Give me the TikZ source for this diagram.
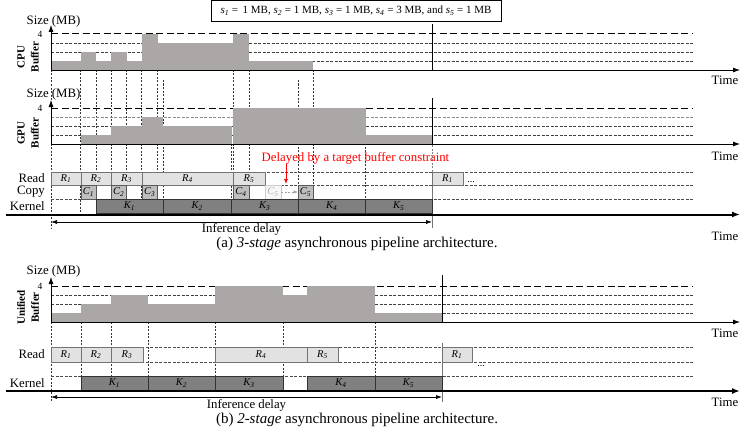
\documentclass[tikz,border=0pt]{standalone}
\usepackage{fontspec}
\setmainfont{Liberation Serif}
\usetikzlibrary{arrows.meta}
\definecolor{barfill}{RGB}{172,167,167}
\definecolor{readfill}{RGB}{226,226,226}
\definecolor{copyfill}{RGB}{190,190,190}
\definecolor{kernfill}{RGB}{128,128,128}
\definecolor{delayred}{RGB}{255,0,0}
\newcommand{\tbox}[7]{%
  \node[#2, anchor=north west, minimum width={(#4-#3)*1pt}, minimum height={(#6-#5)*1pt}] (#1) at (#3,#5) {#7};}
\tikzset{
  lvlfour/.style={line width=1pt, dash pattern=on 7pt off 3.5pt},
  lvl/.style={line width=0.5pt, dash pattern=on 3pt off 1.5pt, black!75},
  vdash/.style={line width=0.5pt, dash pattern=on 2pt off 1.5pt, black!80},
  rowline/.style={line width=0.6pt, dash pattern=on 3pt off 1.5pt, black!70},
  axis/.style={line width=0.8pt, -{Latex[length=7pt,width=5pt]}},
  thickaxis/.style={line width=2pt, -{Latex[length=8pt,width=6pt]}},
  boxbase/.style={inner sep=0pt, outer sep=0pt, line width=0.6pt, font=\fontsize{10.5}{12}\selectfont\itshape},
  readbox/.style={boxbase, draw=black!55, fill=readfill},
  copybox/.style={boxbase, draw=black!65, fill=copyfill},
  kernbox/.style={boxbase, draw=black!80, fill=kernfill},
  ghostbox/.style={boxbase, draw=black!20, fill=black!3, text=black!30},
  rowlbl/.style={anchor=east, inner sep=0pt},
  sizelbl/.style={inner sep=0pt},
  fourlbl/.style={inner sep=0pt, font=\fontsize{9.5}{10}\selectfont},
  timelbl/.style={inner sep=0pt},
  buflbl/.style={rotate=90, align=center, inner sep=0pt, font=\fontsize{11}{14}\selectfont\bfseries},
  caption/.style={inner sep=0pt, font=\fontsize{15}{17}\selectfont},
  delayarrow/.style={line width=0.6pt, {Latex[length=6pt,width=4pt]}-{Latex[length=6pt,width=4pt]}},
}
\begin{document}
\begin{tikzpicture}[x=1pt,y=-1pt, font=\fontsize{12.8}{15}\selectfont]
\useasboundingbox (0,0) rectangle (747,444);

% ================= (a) =================
\node[draw, line width=0.7pt, minimum width=290pt, minimum height=20.5pt, inner sep=0pt, font=\fontsize{11}{13}\selectfont] (info) at (356,10.8)
 {\textit{s\textsubscript{1}} = \,1 MB, \textit{s\textsubscript{2}} = 1 MB, \textit{s\textsubscript{3}} = 1 MB, \textit{s\textsubscript{4}} = 3 MB, and \textit{s\textsubscript{5}} = 1 MB};

% vertical dashed guides
\foreach \x in {80.5,96,111,126.5,141.5,157.5,233,249,313}
  \draw[vdash] (\x,70) -- (\x,213);
\foreach \x in {163,298}
  \draw[vdash] (\x,80) -- (\x,213);
\draw[vdash] (231.5,126) -- (231.5,213);
\draw[vdash] (365.5,108) -- (365.5,213);
\draw[vdash] (51,70) -- (51,228);

% level lines CPU & GPU
\draw[lvlfour] (51,34) -- (693,34);
\foreach \y in {43,52,61} \draw[lvl] (51,\y) -- (693,\y);
\draw[lvlfour] (51,108) -- (693,108);
\draw[lvl, black!45] (51,117) -- (693,117);
\foreach \y in {126,135} \draw[lvl] (51,\y) -- (693,\y);

% CPU bars
\foreach \a/\b/\h in {51/80.5/1, 80.5/96/2, 96/111/1, 111/126.5/2, 126.5/141.5/1, 141.5/157.5/4, 157.5/233/3, 233/249/4, 249/313/1}
  \fill[barfill] (\a,70) rectangle (\b,{70-9*\h});
% GPU bars
\foreach \a/\b/\h in {81/111/1, 111/141.5/2, 141.5/163/3, 163/231.5/2, 233/365.5/4, 365.5/432/1}
  \fill[barfill] (\a,144) rectangle (\b,{144-9*\h});

% axes CPU
\coordinate (cpuO) at (51,70);
\coordinate (cpuY) at (51,25);
\coordinate (cpuX) at (740,70);
\draw[axis] (cpuO) -- (cpuY);
\draw[axis] (cpuO) -- (cpuX);
\node[sizelbl] (cpusize) at (53.5,21) {Size (MB)};
\node[fourlbl] (cpufour) at (40,34) {4};
\node[timelbl] (cputime) at (725,80) {Time};
\node[buflbl] (cpulbl) at (28,57) {CPU\\Buffer};

% axes GPU
\coordinate (gpuO) at (51,144);
\coordinate (gpuY) at (51,100);
\coordinate (gpuX) at (740,144);
\draw[axis] (gpuO) -- (gpuY);
\draw[axis] (gpuO) -- (gpuX);
\node[sizelbl] (gpusize) at (53.5,94) {Size (MB)};
\node[fourlbl] (gpufour) at (40,108) {4};
\node[timelbl] (gputime) at (725,156) {Time};
\node[buflbl] (gpulbl) at (28,133) {GPU\\Buffer};

% end-of-inference vertical line (a)
\coordinate (endA1) at (432,24);
\coordinate (endA2) at (432,70);
\coordinate (endA3) at (432,98);
\coordinate (endA4) at (432,145);
\coordinate (endA5) at (432,172);
\coordinate (endA6) at (432,228);
\draw[line width=0.6pt] (endA1) -- (endA2);
\draw[line width=0.6pt] (endA3) -- (endA4);
\draw[vdash, black!50] (endA4) -- (endA5);
\draw[line width=0.6pt, black!55] (endA5) -- (endA6);

% row lines
\foreach \y in {172,185,199} \draw[rowline] (51,\y) -- (693,\y);

% row labels
\node[rowlbl] (readA) at (45,178.5) {Read};
\node[rowlbl] (copyA) at (45,192) {Copy};
\node[rowlbl] (kernA) at (45,206) {Kernel};

% read boxes
\tbox{r1a}{readbox}{51}{81}{172}{185}{R\textsubscript{1}}
\tbox{r2a}{readbox}{81}{111}{172}{185}{R\textsubscript{2}}
\tbox{r3a}{readbox}{111}{142}{172}{185}{R\textsubscript{3}}
\tbox{r4a}{readbox}{142}{233}{172}{185}{R\textsubscript{4}}
\tbox{r5a}{readbox}{233}{265}{172}{185}{R\textsubscript{5}}
\tbox{r1an}{readbox}{432}{463}{172}{185}{R\textsubscript{1}}
\node[inner sep=0pt, font=\fontsize{10}{12}\selectfont] (dotsA) at (471,182) {...};

% copy boxes
\tbox{c1a}{copybox}{81}{96}{185}{199}{C\textsubscript{1}}
\tbox{c2a}{copybox}{111}{126.5}{185}{199}{C\textsubscript{2}}
\tbox{c3a}{copybox}{142}{157.5}{185}{199}{C\textsubscript{3}}
\tbox{c4a}{copybox}{233}{249}{185}{199}{C\textsubscript{4}}
\tbox{c5g}{ghostbox}{265}{281}{185}{199}{C\textsubscript{5}}
\tbox{c5a}{copybox}{298}{313}{185}{199}{C\textsubscript{5}}
\draw[black!35, line width=0.6pt, dash pattern=on 2pt off 1.5pt, -{Latex[length=4.5pt,width=3.5pt]}] (c5g.east) -- (c5a.west);

% kernel boxes
\tbox{k1a}{kernbox}{96}{163}{199}{213}{K\textsubscript{1}}
\tbox{k2a}{kernbox}{163}{231.5}{199}{213}{K\textsubscript{2}}
\tbox{k3a}{kernbox}{231.5}{298}{199}{213}{K\textsubscript{3}}
\tbox{k4a}{kernbox}{298}{365.5}{199}{213}{K\textsubscript{4}}
\tbox{k5a}{kernbox}{365.5}{432}{199}{213}{K\textsubscript{5}}

% thick time axis
\coordinate (kaxA0) at (6,214.5);
\coordinate (kaxA1) at (740,214.5);
\draw[thickaxis] (kaxA0) -- (kaxA1);
\node[timelbl] (ktimeA) at (725,236) {Time};

% delayed annotation
\node[inner sep=0pt, text=delayred] (delay) at (355.5,158) {Delayed by a target buffer constraint};
\coordinate (dtop) at (286,164);
\coordinate (dbot) at (286,184);
\draw[delayred, line width=0.8pt, -{Latex[length=5pt,width=4pt]}] (dtop) -- (dbot);

% inference delay (a)
\coordinate (idA0) at (51,222);
\coordinate (idA1) at (432,222);
\draw[delayarrow] (idA0) -- (idA1);
\node[inner sep=0pt] (idlblA) at (241.5,229.5) {Inference delay};
\node[caption] (capA) at (357,244) {(a) \textit{3-stage} asynchronous pipeline architecture.};

% ================= (b) =================
\foreach \x in {81,111,148,215,283,375}
  \draw[vdash] (\x,322) -- (\x,390);
\draw[vdash] (51,322) -- (51,402);

\draw[lvlfour] (51,286) -- (693,286);
\foreach \y in {295,304,313} \draw[lvl] (51,\y) -- (693,\y);

\foreach \a/\b/\h in {51/81/1, 81/111/2, 111/148/3, 148/215/2, 215/283/4, 283/307/3, 307/375/4, 375/442/1}
  \fill[barfill] (\a,322) rectangle (\b,{322-9*\h});

\coordinate (uniO) at (51,322);
\coordinate (uniY) at (51,277);
\coordinate (uniX) at (740,322);
\draw[axis] (uniO) -- (uniY);
\draw[axis] (uniO) -- (uniX);
\node[sizelbl] (unisize) at (53.5,271) {Size (MB)};
\node[fourlbl] (unifour) at (40,286) {4};
\node[timelbl] (unitime) at (725,333) {Time};
\node[buflbl] (unilbl) at (28,307.5) {Unified\\Buffer};

\coordinate (endB1) at (442,275);
\coordinate (endB2) at (442,322);
\coordinate (endB3) at (442,343);
\coordinate (endB4) at (442,402);
\draw[line width=0.6pt] (endB1) -- (endB2);
\draw[line width=0.6pt, black!55] (endB3) -- (endB4);

\foreach \y in {347,362,376} \draw[rowline] (51,\y) -- (693,\y);

\node[rowlbl] (readB) at (45,354.5) {Read};
\node[rowlbl] (kernB) at (45,383) {Kernel};

\tbox{r1b}{readbox}{51}{81}{347}{362}{R\textsubscript{1}}
\tbox{r2b}{readbox}{81}{111}{347}{362}{R\textsubscript{2}}
\tbox{r3b}{readbox}{111}{143}{347}{362}{R\textsubscript{3}}
\tbox{r4b}{readbox}{215}{307}{347}{362}{R\textsubscript{4}}
\tbox{r5b}{readbox}{307}{338}{347}{362}{R\textsubscript{5}}
\tbox{r1bn}{readbox}{442}{472}{347}{362}{R\textsubscript{1}}
\node[inner sep=0pt, font=\fontsize{10}{12}\selectfont] (dotsB) at (481,366) {...};

\tbox{k1b}{kernbox}{81}{148}{376}{390}{K\textsubscript{1}}
\tbox{k2b}{kernbox}{148}{215}{376}{390}{K\textsubscript{2}}
\tbox{k3b}{kernbox}{215}{283}{376}{390}{K\textsubscript{3}}
\tbox{k4b}{kernbox}{307}{375}{376}{390}{K\textsubscript{4}}
\tbox{k5b}{kernbox}{375}{442}{376}{390}{K\textsubscript{5}}

\coordinate (kaxB0) at (6,391);
\coordinate (kaxB1) at (740,391);
\draw[thickaxis] (kaxB0) -- (kaxB1);
\node[timelbl] (ktimeB) at (725,402) {Time};

\coordinate (idB0) at (51,397);
\coordinate (idB1) at (442,397);
\draw[delayarrow] (idB0) -- (idB1);
\node[inner sep=0pt] (idlblB) at (246.5,405) {Inference delay};
\node[caption] (capB) at (357,419.5) {(b) \textit{2-stage} asynchronous pipeline architecture.};
\end{tikzpicture}
\end{document}
